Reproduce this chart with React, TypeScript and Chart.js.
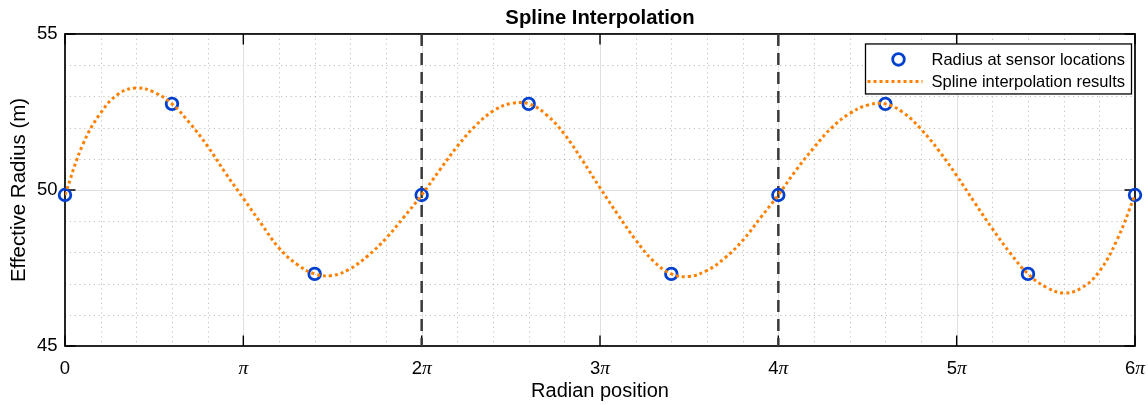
import React, { useEffect, useRef } from 'react';
import { Chart, registerables } from 'chart.js';

Chart.register(...registerables);

const PI = Math.PI;

// Sensor locations (in multiples of pi) and radius at each sensor
const sensorPositionsPi = [0, 0.6, 1.4, 2, 2.6, 3.4, 4, 4.6, 5.4, 6];
const sensorRadius = [49.84, 52.76, 47.31, 49.84, 52.76, 47.31, 49.84, 52.76, 47.31, 49.84];

// Spline interpolation results (every 0.1*pi)
const splinePositionsPi = [
  0.0, 0.1, 0.2, 0.3, 0.4, 0.5, 0.6, 0.7, 0.8, 0.9,
  1.0, 1.1, 1.2, 1.3, 1.4, 1.5, 1.6, 1.7, 1.8, 1.9,
  2.0, 2.1, 2.2, 2.3, 2.4, 2.5, 2.6, 2.7, 2.8, 2.9,
  3.0, 3.1, 3.2, 3.3, 3.4, 3.5, 3.6, 3.7, 3.8, 3.9,
  4.0, 4.1, 4.2, 4.3, 4.4, 4.5, 4.6, 4.7, 4.8, 4.9,
  5.0, 5.1, 5.2, 5.3, 5.4, 5.5, 5.6, 5.7, 5.8, 5.9,
  6.0,
];
const splineRadius = [
  49.84, 51.46, 52.47, 53.08, 53.27, 53.13, 52.76, 52.14, 51.40, 50.54,
  49.73, 48.92, 48.14, 47.62, 47.31, 47.26, 47.48, 47.90, 48.45, 49.13,
  49.84, 50.63, 51.40, 52.05, 52.53, 52.77, 52.76, 52.41, 51.79, 50.96,
  50.07, 49.21, 48.40, 47.72, 47.31, 47.23, 47.42, 47.82, 48.38, 49.11,
  49.84, 50.64, 51.36, 52.00, 52.45, 52.72, 52.76, 52.48, 51.95, 51.26,
  50.46, 49.60, 48.76, 47.98, 47.31, 46.89, 46.70, 46.86, 47.39, 48.41,
  49.84,
];

// Vertical dashed reference lines (multiples of pi)
const dashedLinePositionsPi = [2, 4];

// Axis ticks
const xTickMultiples = [0, 1, 2, 3, 4, 5, 6];
const xTickLabels = ['0', 'π', '2π', '3π', '4π', '5π', '6π'];
const yTickValues = [45, 50, 55];

const X_MIN = 0;
const X_MAX = 6 * PI;
const Y_MIN = 45;
const Y_MAX = 55;

const SANS = '"Liberation Sans", Arial, Helvetica, sans-serif';
const SERIF = '"Liberation Serif", "DejaVu Serif", serif';
const ORANGE = '#ff8000';
const BLUE = '#0040d0';
const LINE_DASH = [3, 3];
const LINE_WIDTH = 3;

const gridPlugin = {
  id: 'matlabGrid',
  beforeDatasetsDraw(chart: any) {
    const { ctx, chartArea, scales } = chart;
    const { left, right, top, bottom } = chartArea;
    const x = scales.x;
    const y = scales.y;
    ctx.save();
    const vline = (px: number) => {
      ctx.beginPath();
      ctx.moveTo(px, top);
      ctx.lineTo(px, bottom);
      ctx.stroke();
    };
    const hline = (py: number) => {
      ctx.beginPath();
      ctx.moveTo(left, py);
      ctx.lineTo(right, py);
      ctx.stroke();
    };
    // minor grid
    ctx.strokeStyle = 'rgba(0,0,0,0.24)';
    ctx.lineWidth = 1;
    ctx.setLineDash([1.2, 3.6]);
    const minorStep = 0.2 * PI;
    const nMinor = Math.round((X_MAX - X_MIN) / minorStep);
    for (let k = 1; k < nMinor; k++) {
      if (k % 5 === 0) continue;
      vline(Math.round(x.getPixelForValue(k * minorStep)) + 0.5);
    }
    for (let v = Y_MIN + 1; v < Y_MAX; v++) {
      if (yTickValues.includes(v)) continue;
      hline(Math.round(y.getPixelForValue(v)) + 0.5);
    }
    // major grid
    ctx.setLineDash([]);
    ctx.strokeStyle = '#e0e0e0';
    xTickMultiples.forEach((m) => {
      const v = m * PI;
      if (v <= X_MIN || v >= X_MAX) return;
      vline(Math.round(x.getPixelForValue(v)) + 0.5);
    });
    yTickValues.forEach((v) => {
      if (v <= Y_MIN || v >= Y_MAX) return;
      hline(Math.round(y.getPixelForValue(v)) + 0.5);
    });
    // axes box
    ctx.strokeStyle = '#000';
    ctx.lineWidth = 1.7;
    ctx.strokeRect(left, top, right - left, bottom - top);
    // inward ticks
    ctx.lineWidth = 1.4;
    const tl = 10.5;
    xTickMultiples.forEach((m) => {
      const px = x.getPixelForValue(m * PI);
      ctx.beginPath();
      ctx.moveTo(px, bottom);
      ctx.lineTo(px, bottom - tl);
      ctx.moveTo(px, top);
      ctx.lineTo(px, top + tl);
      ctx.stroke();
    });
    yTickValues.forEach((v) => {
      const py = y.getPixelForValue(v);
      ctx.beginPath();
      ctx.moveTo(left, py);
      ctx.lineTo(left + tl, py);
      ctx.moveTo(right, py);
      ctx.lineTo(right - tl, py);
      ctx.stroke();
    });
    ctx.restore();
  },
};

const overlayPlugin = {
  id: 'matlabOverlay',
  afterDraw(chart: any) {
    const { ctx, chartArea, scales } = chart;
    const { right, top, bottom } = chartArea;
    const x = scales.x;
    ctx.save();
    // x tick labels with italic serif pi
    const numFont = `18.5px ${SANS}`;
    const piFont = `italic 19.5px ${SERIF}`;
    ctx.fillStyle = '#000';
    ctx.textBaseline = 'alphabetic';
    ctx.textAlign = 'left';
    xTickMultiples.forEach((m, i) => {
      const label = xTickLabels[i];
      const hasPi = label.endsWith('π');
      const num = hasPi ? label.slice(0, -1) : label;
      ctx.font = numFont;
      const wN = ctx.measureText(num).width;
      ctx.font = piFont;
      const wP = hasPi ? ctx.measureText('π').width : 0;
      const px = x.getPixelForValue(m * PI);
      const sx = px - (wN + wP) / 2;
      const by = bottom + 28;
      ctx.font = numFont;
      ctx.fillText(num, sx, by);
      if (hasPi) {
        ctx.font = piFont;
        ctx.fillText('π', sx + wN, by);
      }
    });

    // legend
    const ds = chart.data.datasets;
    const bw = 266;
    const bh = 50;
    const bx = right - 3.5 - bw;
    const byTop = top + 10;
    ctx.fillStyle = '#fff';
    ctx.fillRect(bx, byTop, bw, bh);
    ctx.strokeStyle = '#000';
    ctx.lineWidth = 1.3;
    ctx.strokeRect(bx, byTop, bw, bh);
    const row1 = byTop + 15.5;
    const row2 = byTop + 37.5;
    // marker sample
    ctx.beginPath();
    ctx.arc(bx + 33, row1, 5.8, 0, Math.PI * 2);
    ctx.strokeStyle = BLUE;
    ctx.lineWidth = 2.8;
    ctx.stroke();
    // line sample
    ctx.beginPath();
    ctx.setLineDash(LINE_DASH);
    ctx.moveTo(bx + 2, row2);
    ctx.lineTo(bx + 57, row2);
    ctx.strokeStyle = ORANGE;
    ctx.lineWidth = LINE_WIDTH;
    ctx.stroke();
    ctx.setLineDash([]);
    ctx.fillStyle = '#000';
    ctx.font = `16.5px ${SANS}`;
    ctx.textBaseline = 'middle';
    ctx.textAlign = 'left';
    const markerDs = ds.find((d: any) => d.id === 'markers');
    const splineDs = ds.find((d: any) => d.id === 'spline');
    ctx.fillText(markerDs.label, bx + 66, row1 + 0.5);
    ctx.fillText(splineDs.label, bx + 66, row2 + 0.5);
    ctx.restore();
  },
};

export default function App() {
  const canvasRef = useRef<HTMLCanvasElement | null>(null);

  useEffect(() => {
    document.body.style.margin = '0';
    const canvas = canvasRef.current;
    if (!canvas) return;

    const splineData = splinePositionsPi.map((p, i) => ({ x: p * PI, y: splineRadius[i] }));
    const sensorData = sensorPositionsPi.map((p, i) => ({ x: p * PI, y: sensorRadius[i] }));
    const dashedSets = dashedLinePositionsPi.map((p) => ({
      id: 'xline' + p,
      label: 'xline',
      data: [
        { x: p * PI, y: Y_MAX },
        { x: p * PI, y: Y_MIN },
      ],
      borderColor: '#3a3a3a',
      borderWidth: 2.5,
      borderDash: [12, 7],
      pointRadius: 0,
      fill: false,
      order: 2,
    }));

    const chart = new Chart(canvas, {
      type: 'line',
      data: {
        datasets: [
          {
            id: 'spline',
            label: 'Spline interpolation results',
            data: splineData,
            borderColor: ORANGE,
            borderWidth: LINE_WIDTH,
            borderDash: LINE_DASH,
            pointRadius: 0,
            tension: 0.4,
            fill: false,
            order: 0,
          } as any,
          {
            id: 'markers',
            label: 'Radius at sensor locations',
            data: sensorData,
            showLine: false,
            pointRadius: 5.8,
            pointBorderWidth: 2.8,
            pointBorderColor: BLUE,
            pointBackgroundColor: 'rgba(0,0,0,0)',
            clip: false,
            order: 1,
          } as any,
          ...(dashedSets as any[]),
        ],
      },
      options: {
        animation: false,
        responsive: false,
        maintainAspectRatio: false,
        devicePixelRatio: 1,
        events: [],
        layout: { padding: { left: 0, right: 13, top: 0, bottom: 0 } },
        plugins: {
          legend: { display: false },
          tooltip: { enabled: false },
          title: {
            display: true,
            text: 'Spline Interpolation',
            color: '#000',
            fullSize: false,
            font: { family: SANS, size: 20.3, weight: 'bold', lineHeight: 1.2 },
            padding: { top: 6.5, bottom: 3.1 },
          },
        },
        scales: {
          x: {
            type: 'linear',
            min: X_MIN,
            max: X_MAX,
            grid: { display: false, drawTicks: false },
            border: { display: false },
            ticks: { display: false },
            title: {
              display: true,
              text: 'Radian position',
              color: '#000',
              font: { family: SANS, size: 20, lineHeight: 1.2 },
              padding: { top: 33, bottom: 2 },
            },
            afterFit: (scale: any) => {
              scale.height = 59;
            },
          },
          y: {
            type: 'linear',
            min: Y_MIN,
            max: Y_MAX,
            grid: { display: false, drawTicks: false },
            border: { display: false },
            afterBuildTicks: (scale: any) => {
              scale.ticks = yTickValues.map((v) => ({ value: v }));
            },
            ticks: {
              color: '#000',
              padding: 7.5,
              font: { family: SANS, size: 18.5 },
              callback: (v: any) => String(v),
            },
            title: {
              display: true,
              text: 'Effective Radius (m)',
              color: '#000',
              font: { family: SANS, size: 20.5, lineHeight: 1.2 },
              padding: { top: 7.2, bottom: 0 },
            },
            afterFit: (scale: any) => {
              scale.width = 65;
            },
          },
        },
      },
      plugins: [gridPlugin, overlayPlugin],
    });

    return () => {
      chart.destroy();
    };
  }, []);

  return (
    <div style={{ width: 1148, height: 405, background: '#fff' }}>
      <canvas ref={canvasRef} width={1148} height={405} style={{ display: 'block' }} />
    </div>
  );
}
